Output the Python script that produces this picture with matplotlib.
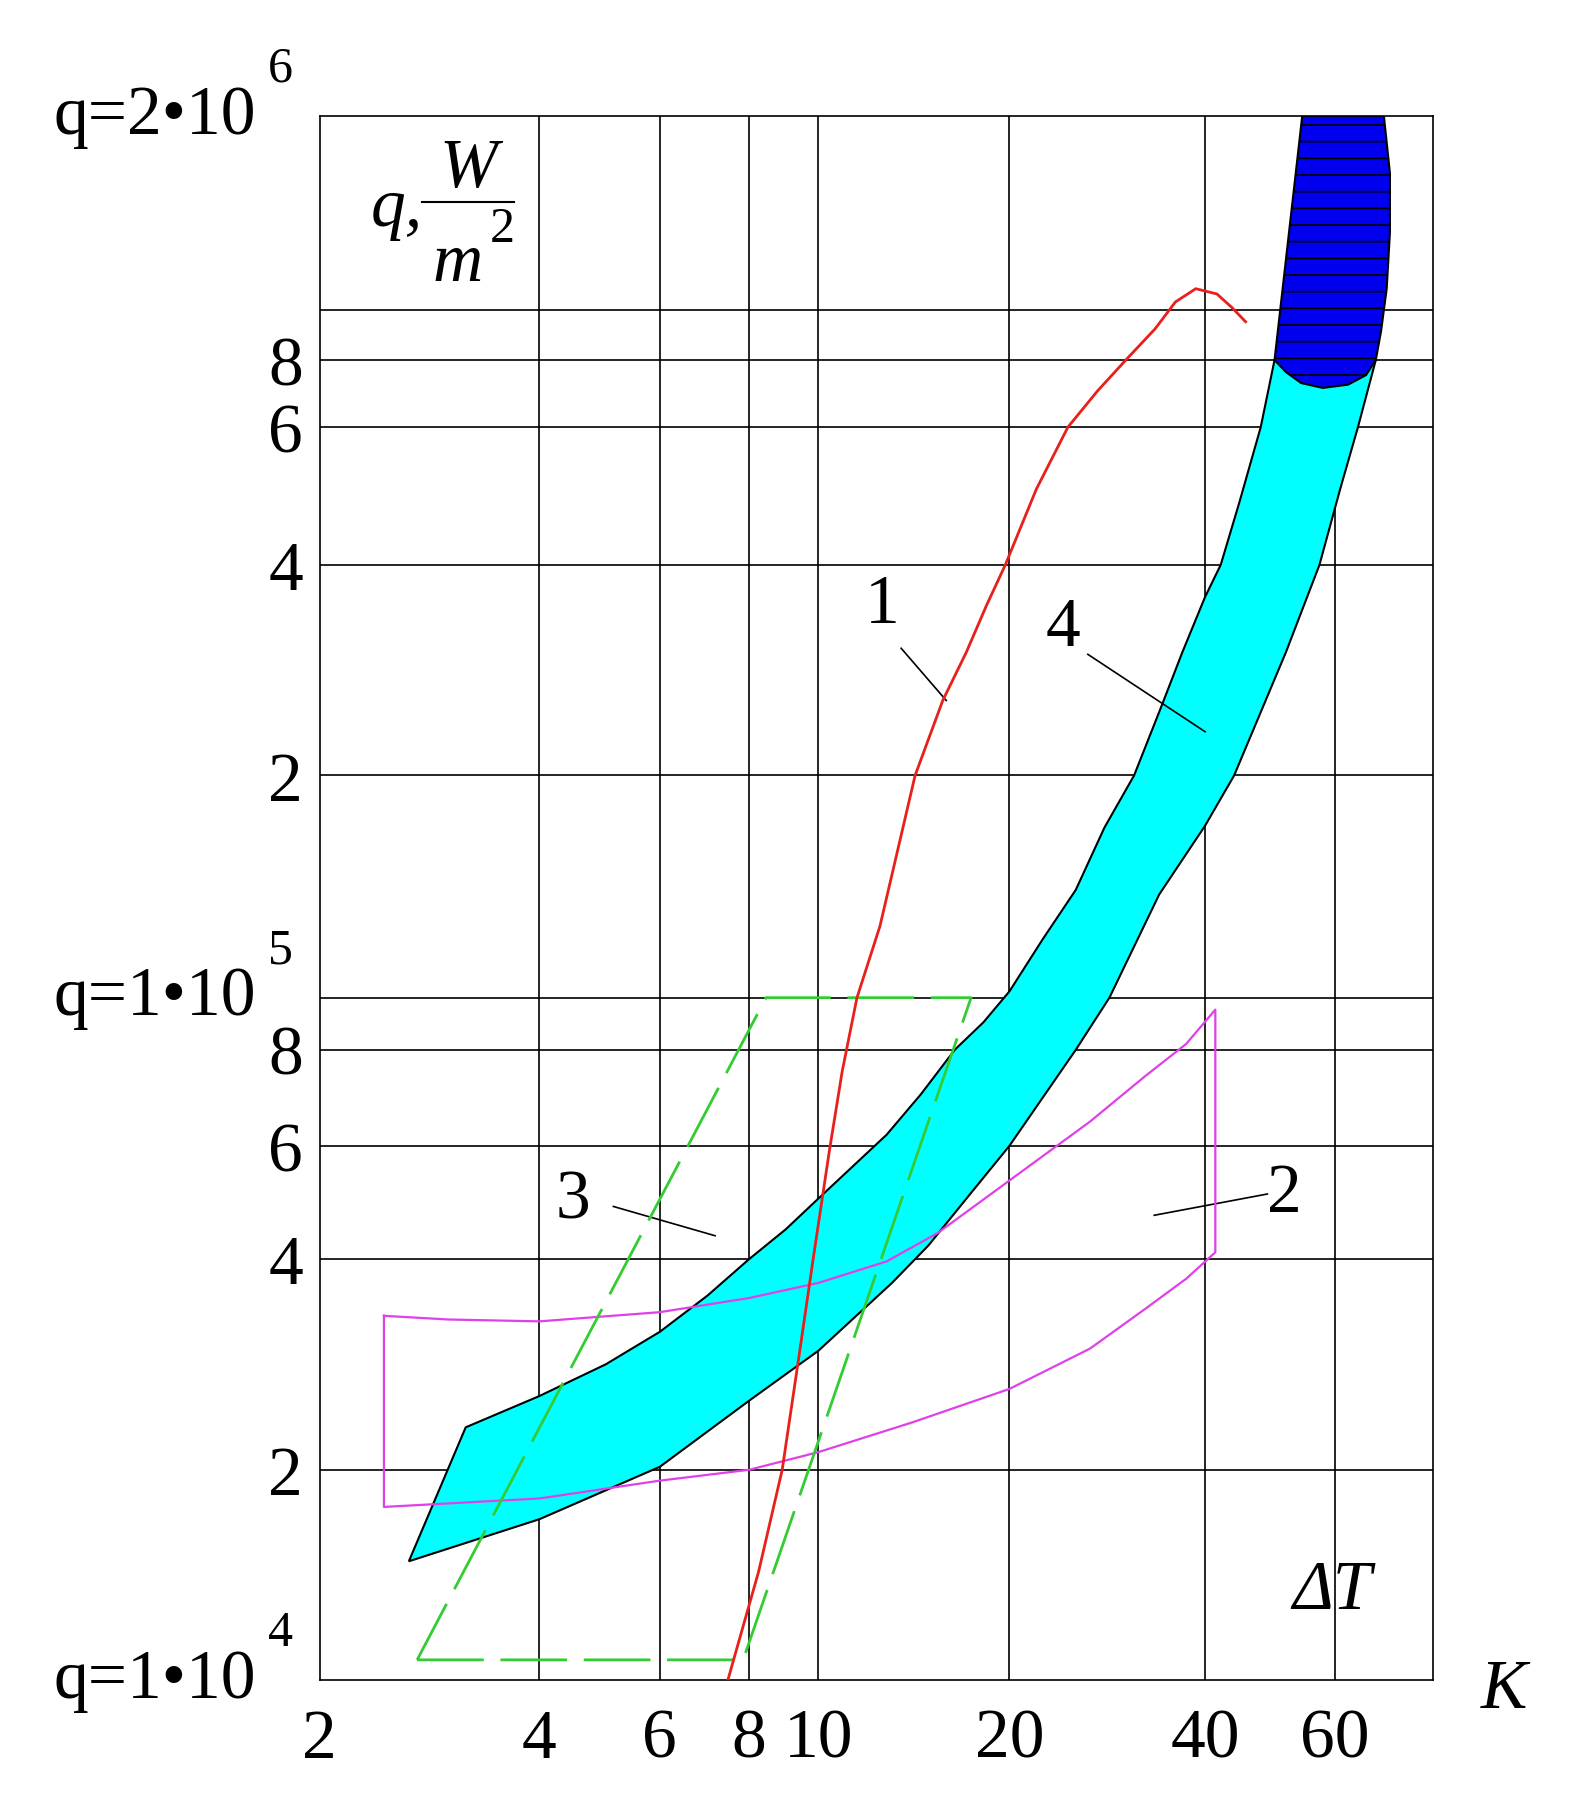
import numpy as np
import matplotlib.pyplot as plt

plt.rcParams['font.family'] = ['Liberation Serif', 'DejaVu Serif']

# grid / tick values of the (slightly distorted) log axes
x_ticks = [2, 4, 6, 8, 10, 20, 40, 60]
x_knot_vals = [2, 4, 6, 8, 10, 20, 40, 60, 81]
x_knot_pos = [276, 466, 570, 647, 707, 872, 1041, 1153, 1238]
y_grid = [1e4, 2e4, 4e4, 6e4, 8e4, 1e5, 2e5, 4e5, 6e5, 8e5, 1e6, 2e6]
y_knot_pos = [-1452, -1270, -1088, -990, -907, -862, -670, -488, -369, -311, -268, -100]
y_labels = ['', '2', '4', '6', '8', '', '2', '4', '6', '8', '', '']
q_labels = [(1e4, 'q=1\u202210', '4'), (1e5, 'q=1\u202210', '5'), (2e6, 'q=2\u202210', '6')]

# curve 1 (red)
c1_dt = [7.47, 8.25, 8.9, 9.4, 9.83, 10.4, 10.9, 11.5, 12.5, 14.2, 15.7, 17.1, 18.4, 19.7,
         22.0, 24.6, 27.3, 30.2, 33.5, 36.0, 38.7, 41.5, 43.5, 45.4]
c1_q = [1.0e4, 1.43e4, 2.0e4, 2.92e4, 4.0e4, 5.88e4, 7.5e4, 1.0e5, 1.25e5, 2.0e5, 2.56e5,
        3.0e5, 3.5e5, 4.0e5, 5.0e5, 6.0e5, 7.0e5, 8.0e5, 9.2e5, 1.03e6, 1.08e6, 1.06e6,
        1.01e6, 9.5e5]

# band 4: upper (left) and lower (right) edges
b_up_dt = [3.17, 4, 5, 6, 7, 8, 9, 10, 12.8, 14.5, 16.4, 18.2, 20, 22.5, 25.3, 28, 31.1,
           34.2, 36.9, 40, 42.0, 44.5, 47.6, 49.7]
b_up_q = [2.3e4, 2.55e4, 2.83e4, 3.15e4, 3.55e4, 4.0e4, 4.45e4, 4.97e4, 6.2e4, 7.0e4, 8.0e4,
          9.0e4, 1.02e5, 1.2e5, 1.4e5, 1.7e5, 2.0e5, 2.5e5, 3.0e5, 3.6e5, 4.0e5, 4.8e5,
          6.0e5, 8.0e5]
b_lo_dt = [2.65, 4, 6, 8, 10, 13.06, 14.9, 17.2, 20, 25.3, 28.5, 34.0, 40, 43.8, 51.5,
           57.2, 61.0, 64.4, 68.0]
b_lo_q = [1.48e4, 1.7e4, 2.02e4, 2.51e4, 2.96e4, 3.7e4, 4.2e4, 5.0e4, 6.0e4, 8.0e4, 1.0e5,
          1.38e5, 1.71e5, 2.0e5, 3.0e5, 4.0e5, 5.0e5, 6.0e5, 8.0e5]
cap_dt = [49.7, 54.2, 69.7, 71.0, 71.0, 70.3, 69.1, 68.0, 66.0, 62.5, 57.8, 54.0, 51.5]
cap_q = [8.0e5, 2.0e6, 2.0e6, 1.63e6, 1.32e6, 1.08e6, 9.1e5, 8.0e5, 7.5e5, 7.2e5, 7.1e5,
         7.25e5, 7.6e5]

# curve 2 (magenta closed contour)
c2_top_dt = [2.45, 3, 4, 6, 8, 10, 12.8, 15.4, 20, 26.6, 32.4, 37.4, 41.3]
c2_top_q = [3.32e4, 3.28e4, 3.26e4, 3.36e4, 3.52e4, 3.7e4, 3.97e4, 4.39e4, 5.3e4, 6.45e4,
            7.4e4, 8.2e4, 9.5e4]
c2_bot_dt = [2.45, 4, 6, 8, 10, 14.1, 20, 26.6, 32.4, 37.4, 41.3]
c2_bot_q = [1.77e4, 1.82e4, 1.93e4, 2.0e4, 2.12e4, 2.34e4, 2.61e4, 2.98e4, 3.4e4, 3.75e4, 4.1e4]

# curve 3 (green dashed parallelogram)
c3_dt = [2.72, 7.85, 17.4, 8.45, 2.72]
c3_q = [1.07e4, 1.07e4, 1.0e5, 1.0e5, 1.07e4]


def make_scale(vals, pos):
    lv = np.log10(vals)
    pos = np.asarray(pos, float)

    def fwd(v):
        v = np.clip(np.asarray(v, float), 1e-30, None)
        return np.interp(np.log10(v), lv, pos)

    def inv(p):
        return 10 ** np.interp(np.asarray(p, float), pos, lv)
    return fwd, inv


fig = plt.figure(figsize=(15.78, 18.15), dpi=100)
ax = fig.add_axes([0.2025, 0.0736, 0.7057, 0.862])
ax.set_xscale('function', functions=make_scale(x_knot_vals, x_knot_pos))
ax.set_yscale('function', functions=make_scale(y_grid, y_knot_pos))
ax.set_xlim(2, 81)
ax.set_ylim(1e4, 2e6)

for v in x_ticks[1:]:
    ax.axvline(v, color='black', lw=1.2, zorder=0)
for v in y_grid[1:-1]:
    ax.axhline(v, color='black', lw=1.2, zorder=0)

# band 4
bx = b_up_dt + b_lo_dt[::-1]
by = b_up_q + b_lo_q[::-1]
ax.fill(bx, by, facecolor='#00ffff', edgecolor='black', lw=1.5, zorder=2)
plt.rcParams['hatch.linewidth'] = 1.2
ax.fill(cap_dt, cap_q, facecolor='#0000ee', edgecolor='black', hatch='-', lw=1.5, zorder=3)

# curve 2
c2x = c2_top_dt + c2_bot_dt[::-1] + [c2_top_dt[0]]
c2y = c2_top_q + c2_bot_q[::-1] + [c2_top_q[0]]
ax.plot(c2x, c2y, color='#e040e8', lw=1.6, zorder=4)

# curve 3
ax.plot(c3_dt, c3_q, color='#33cc33', lw=2, dashes=(24, 6), zorder=4)

# curve 1
ax.plot(c1_dt, c1_q, color='#e8201c', lw=2, zorder=5)

# labels with leader lines
fs = 50
ax.text(12.6, 3.5e5, '1', fontsize=fs, ha='center', va='center')
ax.plot([13.5, 15.9], [3.04e5, 2.56e5], color='black', lw=1.2)
ax.text(24.2, 3.25e5, '4', fontsize=fs, ha='center', va='center')
ax.plot([26.4, 40], [2.98e5, 2.31e5], color='black', lw=1.2)
ax.text(4.47, 4.93e4, '3', fontsize=fs, ha='center', va='center')
ax.plot([5.13, 7.17], [4.83e4, 4.35e4], color='black', lw=1.2)
ax.text(51.3, 5.05e4, '2', fontsize=fs, ha='center', va='center')
ax.plot([48.6, 33.4], [5.05e4, 4.68e4], color='black', lw=1.2)

# axis ticks
ax.set_xticks(x_ticks)
ax.set_xticklabels([str(v) for v in x_ticks], fontsize=fs)
ax.set_yticks(y_grid)
ax.set_yticklabels(y_labels, fontsize=fs)
ax.tick_params(length=0, pad=12)
ax.tick_params(axis='x', pad=20)
ax.minorticks_off()
for s in ax.spines.values():
    s.set_linewidth(1.2)

# labelled decades with exponents
for q, lab, e in q_labels:
    ax.annotate(lab, (0, q), xycoords=('axes fraction', 'data'), xytext=(-46, 0),
                textcoords='offset points', fontsize=fs, ha='right', va='center')
    ax.annotate(e, (0, q), xycoords=('axes fraction', 'data'), xytext=(-28, 34),
                textcoords='offset points', fontsize=36, ha='center', va='center')

# units
ax.text(0.046, 0.941, 'q,', transform=ax.transAxes, fontsize=fs, style='italic', va='center')
ax.text(0.134, 0.966, 'W', transform=ax.transAxes, fontsize=fs, style='italic', ha='center', va='center')
ax.plot([0.092, 0.175], [0.945, 0.945], transform=ax.transAxes, color='black', lw=1.5)
ax.text(0.124, 0.906, 'm', transform=ax.transAxes, fontsize=fs, style='italic', ha='center', va='center')
ax.text(0.164, 0.928, '2', transform=ax.transAxes, fontsize=36, ha='center', va='center')
ax.text(0.909, 0.057, '\u0394T', transform=ax.transAxes, fontsize=fs, style='italic', ha='center', va='center')
ax.text(1.064, -0.006, 'K', transform=ax.transAxes, fontsize=fs, style='italic', ha='center', va='center')

fig.savefig('out.png', dpi=100)
